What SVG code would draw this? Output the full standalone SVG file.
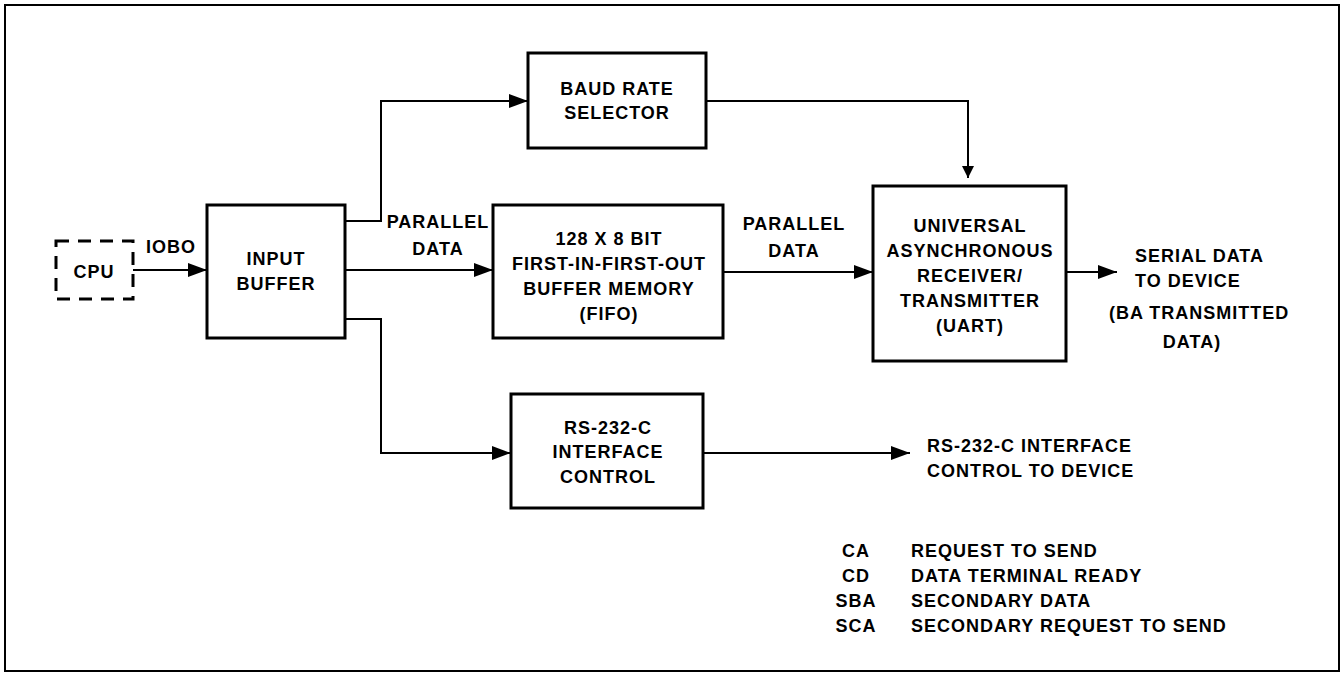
<svg xmlns="http://www.w3.org/2000/svg" width="1342" height="675" viewBox="0 0 1342 675">
<defs>
<style>
.box{fill:#fff;stroke:#000;stroke-width:3}
.dash{fill:none;stroke:#000;stroke-width:3;stroke-dasharray:13 9}
.ln{fill:none;stroke:#000;stroke-width:2}
text{font-family:"Liberation Sans",Arial,sans-serif;font-weight:bold;font-size:18px;letter-spacing:1px;fill:#000}
.c{text-anchor:middle}
</style>
<marker id="ah" markerUnits="userSpaceOnUse" markerWidth="19" markerHeight="14" refX="19" refY="7" orient="auto">
<path d="M0,0 L19,7 L0,14 z" fill="#000"/>
</marker>
<marker id="ahs" markerUnits="userSpaceOnUse" markerWidth="12" markerHeight="12" refX="12" refY="6" orient="auto">
<path d="M0,0 L12,6 L0,12 z" fill="#000"/>
</marker>
</defs>
<rect x="5" y="5" width="1334" height="666" fill="none" stroke="#000" stroke-width="2"/>

<g id="connectors">
<line class="ln" x1="133" y1="270" x2="207" y2="270" marker-end="url(#ah)"/>
<polyline class="ln" points="345,221 381,221 381,101 528,101" marker-end="url(#ah)"/>
<line class="ln" x1="345" y1="270" x2="493" y2="270" marker-end="url(#ah)"/>
<polyline class="ln" points="345,319 381,319 381,453 511,453" marker-end="url(#ah)"/>
<polyline class="ln" points="706,101 968,101 968,178" marker-end="url(#ahs)"/>
<line class="ln" x1="723" y1="272" x2="873" y2="272" marker-end="url(#ah)"/>
<line class="ln" x1="1066" y1="272" x2="1117" y2="272" marker-end="url(#ah)"/>
<line class="ln" x1="703" y1="453" x2="910" y2="453" marker-end="url(#ah)"/>
</g>

<g id="cpu">
<rect class="dash" x="56" y="241" width="77" height="58"/>
<text class="c" x="94" y="278">CPU</text>
</g>
<g id="iobo-label"><text class="c" x="171" y="253">IOBO</text></g>

<g id="input-buffer">
<rect class="box" x="207" y="205" width="138" height="133"/>
<text class="c" x="276" y="265">INPUT</text>
<text class="c" x="276" y="290">BUFFER</text>
</g>

<g id="baud-rate-selector">
<rect class="box" x="528" y="53" width="178" height="95"/>
<text class="c" x="617" y="95">BAUD RATE</text>
<text class="c" x="617" y="119">SELECTOR</text>
</g>

<g id="parallel-data-1">
<text class="c" x="438" y="228">PARALLEL</text>
<text class="c" x="438" y="255">DATA</text>
</g>

<g id="fifo">
<rect class="box" x="493" y="205" width="230" height="133"/>
<text class="c" x="609" y="245">128 X 8 BIT</text>
<text class="c" x="609" y="270">FIRST-IN-FIRST-OUT</text>
<text class="c" x="609" y="295">BUFFER MEMORY</text>
<text class="c" x="609" y="320">(FIFO)</text>
</g>

<g id="parallel-data-2">
<text class="c" x="794" y="230">PARALLEL</text>
<text class="c" x="794" y="257">DATA</text>
</g>

<g id="uart">
<rect class="box" x="873" y="186" width="193" height="175"/>
<text class="c" x="970" y="232">UNIVERSAL</text>
<text class="c" x="970" y="257">ASYNCHRONOUS</text>
<text class="c" x="970" y="282">RECEIVER/</text>
<text class="c" x="970" y="307">TRANSMITTER</text>
<text class="c" x="970" y="332">(UART)</text>
</g>

<g id="serial-data-label">
<text x="1135" y="262">SERIAL DATA</text>
<text x="1135" y="287">TO DEVICE</text>
<text x="1109" y="319">(BA TRANSMITTED</text>
<text class="c" x="1192" y="348">DATA)</text>
</g>

<g id="rs232-control">
<rect class="box" x="511" y="394" width="192" height="114"/>
<text class="c" x="608" y="434">RS-232-C</text>
<text class="c" x="608" y="458">INTERFACE</text>
<text class="c" x="608" y="483">CONTROL</text>
</g>

<g id="rs232-label">
<text x="927" y="452">RS-232-C INTERFACE</text>
<text x="927" y="477">CONTROL TO DEVICE</text>
</g>

<g id="legend">
<text class="c" x="856" y="557">CA</text>
<text x="911" y="557">REQUEST TO SEND</text>
<text class="c" x="856" y="582">CD</text>
<text x="911" y="582">DATA TERMINAL READY</text>
<text class="c" x="856" y="607">SBA</text>
<text x="911" y="607">SECONDARY DATA</text>
<text class="c" x="856" y="632">SCA</text>
<text x="911" y="632">SECONDARY REQUEST TO SEND</text>
</g>
</svg>
